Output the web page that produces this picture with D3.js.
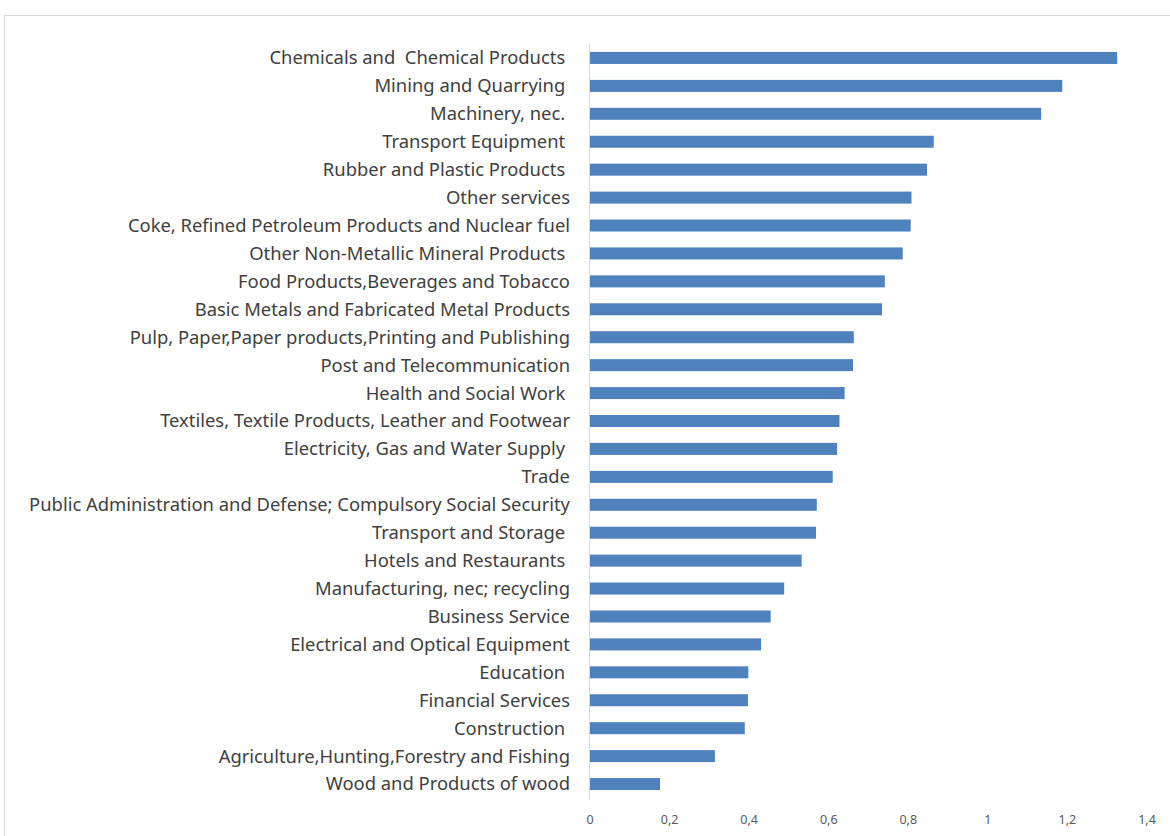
<!DOCTYPE html>
<html>
<head>
<meta charset="utf-8">
<script src="https://cdn.jsdelivr.net/npm/d3@7"></script>
<style>
  html, body { margin: 0; padding: 0; background: #fff; }
  svg text { white-space: pre; }
</style>
</head>
<body>
<svg id="chart" width="1170" height="836"></svg>
<script>
  // sectors, top to bottom
  var sectors = [
    'Chemicals and  Chemical Products ',
    'Mining and Quarrying ',
    'Machinery, nec. ',
    'Transport Equipment ',
    'Rubber and Plastic Products ',
    'Other services',
    'Coke, Refined Petroleum Products and Nuclear fuel',
    'Other Non-Metallic Mineral Products ',
    'Food Products,Beverages and Tobacco',
    'Basic Metals and Fabricated Metal Products',
    'Pulp, Paper,Paper products,Printing and Publishing',
    'Post and Telecommunication',
    'Health and Social Work ',
    'Textiles, Textile Products, Leather and Footwear',
    'Electricity, Gas and Water Supply ',
    'Trade',
    'Public Administration and Defense; Compulsory Social Security',
    'Transport and Storage ',
    'Hotels and Restaurants ',
    'Manufacturing, nec; recycling',
    'Business Service',
    'Electrical and Optical Equipment',
    'Education ',
    'Financial Services',
    'Construction ',
    'Agriculture,Hunting,Forestry and Fishing',
    'Wood and Products of wood'
  ];
  var values = [
    1.325, 1.187, 1.134, 0.864, 0.847, 0.808, 0.806, 0.786, 0.741, 0.734,
    0.663, 0.661, 0.640, 0.627, 0.621, 0.610, 0.570, 0.568, 0.532, 0.488,
    0.454, 0.430, 0.398, 0.397, 0.389, 0.314, 0.176
  ];
  var ticks = [0, 0.2, 0.4, 0.6, 0.8, 1, 1.2, 1.4];

  var svg = d3.select('#chart');

  // outer frame
  svg.append('rect')
    .attr('x', 4.5).attr('y', 15.5)
    .attr('width', 1190).attr('height', 840)
    .attr('fill', 'none').attr('stroke', '#d9d9d9');

  var x = d3.scaleLinear().domain([0, 1.4]).range([590, 1147]);
  var y = d3.scaleBand().domain(sectors).range([44, 798]).paddingInner(0.57).paddingOuter(0.285);

  var data = sectors.map(function(s, i) { return { name: s, value: values[i] }; });

  svg.append('g').selectAll('rect')
    .data(data)
    .enter().append('rect')
    .attr('x', x(0))
    .attr('y', function(d) { return y(d.name); })
    .attr('width', function(d) { return x(d.value) - x(0); })
    .attr('height', y.bandwidth())
    .attr('fill', '#4f81bd');

  // vertical category axis line
  svg.append('line')
    .attr('x1', 589.5).attr('x2', 589.5)
    .attr('y1', 44).attr('y2', 800)
    .attr('stroke', '#d9d9d9').attr('stroke-width', 1);

  // category labels (trailing spaces kept, as in the source)
  svg.append('g').selectAll('text')
    .data(sectors)
    .enter().append('text')
    .attr('x', 570)
    .attr('y', function(d) { return y(d) + y.bandwidth() / 2; })
    .attr('dy', '0.35em')
    .attr('text-anchor', 'end')
    .attr('font-family', 'Noto Sans, sans-serif')
    .attr('font-size', 18.4)
    .attr('fill', '#404040')
    .text(function(d) { return d; });

  // value tick labels
  svg.append('g').selectAll('text')
    .data(ticks)
    .enter().append('text')
    .attr('x', function(d) { return x(d); })
    .attr('y', 824)
    .attr('text-anchor', 'middle')
    .attr('font-family', 'Noto Sans, sans-serif')
    .attr('font-size', 12.5)
    .attr('fill', '#595959')
    .text(function(d) { return String(d).replace('.', ','); });
</script>
</body>
</html>
